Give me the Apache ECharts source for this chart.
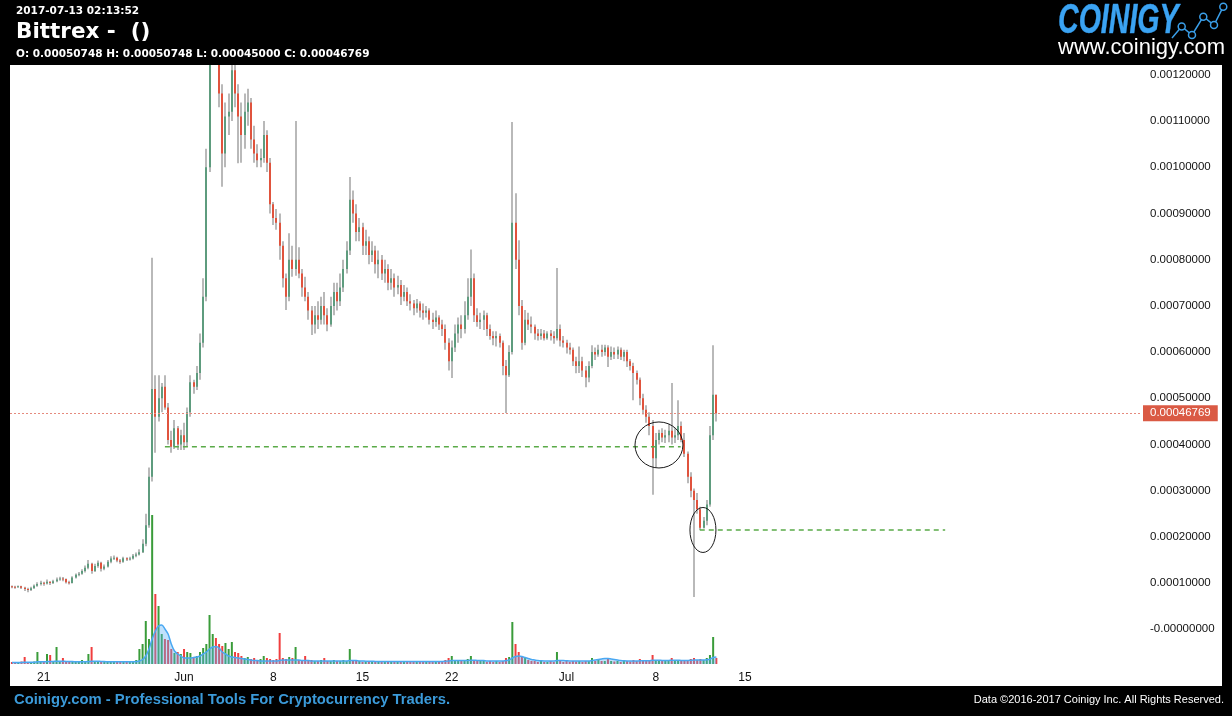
<!DOCTYPE html>
<html><head><meta charset="utf-8">
<script src="https://cdn.jsdelivr.net/npm/echarts@6/dist/echarts.min.js"></script>
<style>html,body{margin:0;padding:0;background:#000}#c{width:1232px;height:716px}</style>
</head><body><div id="c"></div><script>
// ---------- data (prices in units of 1e-8 BTC; time in days since 2017-05-01 00:00) ----------
const FIRST_CANDLE_DAY = 17.5;
const CANDLE_STEP_DAYS = 0.25;
const opens = [9300,9200,9100,9300,9000,8700,8500,8900,9400,9800,10100,9900,10300,10000,10400,10800,11000,10900,10200,10000,
11200,11800,12000,12600,13300,14200,12600,13700,14400,13100,13600,14600,15300,15500,14900,14600,15400,15100,15300,15900,
16200,16700,18500,22500,33000,52000,46000,50000,52500,48000,41000,39500,43500,40000,42000,40500,47000,53500,52500,55500,
62000,72000,100000,125000,130000,127000,116000,103000,111000,112000,121000,116000,111000,107000,112000,114000,106000,103000,101500,102000,
107000,101000,92000,89000,88000,83000,76000,72000,80000,78000,80000,77000,74000,72000,69000,66000,68000,67000,70000,68000,
66000,70000,73000,71000,74000,78000,82000,93000,90000,86000,87000,83000,84000,81000,82000,79000,80000,77000,78000,75000,
76000,74000,74500,72000,73000,71000,70500,69500,70500,69000,68500,69000,67000,66500,67500,66000,65000,62000,58000,61000,
64000,66000,65000,68000,72000,76000,68000,66500,67000,68000,65000,63500,63000,63500,62000,57000,55000,60000,88000,80000,
70000,62000,67000,66000,65500,64000,63500,64000,63000,64000,63500,63000,65000,62500,62000,61000,60500,58000,57000,58000,
56000,54500,57000,60000,59500,60500,60000,61000,59000,60000,59500,60500,59000,60000,58000,57000,55500,54000,50000,47500,
46000,44000,37000,41000,42500,41500,42000,43000,41500,42000,44000,41000,38000,33000,30000,28000,26000,22000,23500,27000,
42000,50748];
const closes = [9200,9100,9300,9000,8700,8500,8900,9400,9800,10100,9900,10300,10000,10400,10800,11000,10900,10200,10000,11200,
11800,12000,12600,13300,14200,12600,13700,14400,13100,13600,14600,15300,15500,14900,14600,15400,15100,15300,15900,16200,
16700,18500,22500,33000,52000,46000,50000,52500,48000,41000,39500,43500,40000,42000,40500,47000,53500,52500,55500,62000,
72000,100000,125000,130000,127000,116000,103000,111000,112000,121000,116000,111000,107000,112000,114000,106000,103000,101500,102000,107000,
101000,92000,89000,88000,83000,76000,72000,80000,78000,80000,77000,74000,72000,69000,66000,68000,67000,70000,68000,66000,
70000,73000,71000,74000,78000,82000,93000,90000,86000,87000,83000,84000,81000,82000,79000,80000,77000,78000,75000,76000,
74000,74500,72000,73000,71000,70500,69500,70500,69000,68500,69000,67000,66500,67500,66000,65000,62000,58000,61000,64000,
66000,65000,68000,72000,76000,68000,66500,67000,68000,65000,63500,63000,63500,62000,57000,55000,60000,88000,80000,70000,
62000,67000,66000,65500,64000,63500,64000,63000,64000,63500,63000,65000,62500,62000,61000,60500,58000,57000,58000,56000,
54500,57000,60000,59500,60500,60000,61000,59000,60000,59500,60500,59000,60000,58000,57000,55500,54000,50000,47500,46000,
44000,37000,41000,42500,41500,42000,43000,41500,42000,44000,41000,38000,33000,30000,28000,26000,22000,23500,27000,42000,
50748,46769];
const lows = [8900,8800,9000,8700,8300,8000,8300,8800,9200,9500,9400,9700,9600,9800,10200,10500,10400,9900,9700,9900,
11000,11500,11800,12300,13000,12000,12400,13300,12500,12800,13400,14300,15000,14500,14200,14400,14800,14900,15100,15600,
16000,16500,18000,22000,32000,38200,45000,47000,47500,40000,38200,39000,38800,38800,38800,39500,46000,51000,51800,54000,
61000,71000,99000,123000,122500,113000,95800,100000,107000,110000,113000,100900,101000,104000,109000,104000,101000,100000,100000,101000,
99000,90000,87500,86500,80000,74000,69100,71000,76300,76500,76000,72000,71000,67000,63700,64000,65000,66000,66000,64500,
65500,68000,69000,70000,73000,77000,81000,88000,84000,84000,81000,81000,79000,79500,77000,76000,75600,75000,73400,73500,
72000,72500,70200,71000,70000,69000,68000,68500,67500,67000,67500,66000,65000,65500,64800,63500,60500,56000,54400,60000,
62000,63000,64000,67000,70000,66500,65500,65000,64800,63500,62700,61500,61200,61000,55000,46800,54600,59500,78000,68000,
60500,61500,64800,64100,62700,62500,62700,62500,62700,62500,61800,62500,61200,61000,59700,59500,57000,55400,55500,54600,
52400,53500,56500,58300,59000,59000,59200,56800,58300,58500,58500,58300,58000,56800,56000,49600,53000,48500,46500,44700,
42000,29100,35100,40000,40500,40300,40500,40000,40300,41000,40500,37300,31600,28600,7000,25000,21500,21800,22500,26500,
41000,45000];
const highs = [9500,9400,9500,9400,9200,9000,9200,9700,10200,10500,10300,10800,10400,10700,11200,11400,11300,11000,10500,11500,
12100,12400,13000,13800,15000,14400,14200,14900,14600,14000,15000,15800,16000,15700,15200,15700,15600,15700,16300,16600,
17300,19500,25000,35000,80400,55000,55000,53300,55000,49000,43000,45300,44000,43200,44700,48000,55000,54000,57000,64000,
76000,104000,132000,138000,134000,128000,118000,114000,116000,126000,124000,118000,114000,116000,117000,115000,109000,105000,104000,110000,
108000,102000,92500,91000,90000,84000,77000,85700,83000,110000,82700,78000,76300,73000,70000,70000,71000,72000,73000,69500,
72000,75000,75000,77000,80000,84000,97900,95000,92000,89000,88000,86500,85000,84000,83000,82000,81000,80000,79000,78000,
77000,76500,75600,74500,74000,72500,71300,71500,71000,70500,70000,69500,68500,69000,68000,67000,66000,63000,62500,66000,
67500,68000,71000,76000,82200,77000,69500,68500,69000,68500,66000,64500,64500,64000,62500,58300,61500,109800,94400,84200,
71300,69100,68500,67700,66000,65000,65000,64800,64500,64800,64500,78200,66000,63500,62700,62000,61000,59000,61200,59000,
57000,58000,61500,61000,61600,61600,61600,61500,61200,61000,61200,61000,60500,60500,58500,57700,56000,54500,51000,48500,
47000,45300,42500,43200,43500,43200,44500,53300,43500,49600,45000,42500,38500,34000,30500,29500,26500,24300,28000,44000,
61500,50748];
const volumes = [20,15,20,25,70,20,15,25,120,30, 20,100,90,30,170,25,60,20,30,25,
20,25,40,30,100,170,30,25,20,30, 25,20,30,30,20,25,20,30,30,40,
150,200,430,250,1490,700,580,300,250,240, 150,110,120,100,150,120,110,70,80,120,
160,200,490,300,260,200,180,210,150,220, 120,110,80,60,70,50,60,40,50,80,
60,50,40,50,310,60,50,70,60,170, 40,30,80,30,40,30,30,40,60,30,
30,40,30,30,40,30,150,40,30,30, 20,30,20,30,20,25,30,20,25,20,
20,30,25,20,20,30,20,25,20,20, 25,20,20,30,25,30,40,60,80,30,
30,30,40,50,80,40,30,30,30,20, 30,20,30,20,30,60,70,420,200,120,
80,60,40,30,30,20,30,20,20,30, 20,120,30,20,30,20,30,25,30,20,
30,30,60,30,40,30,30,50,30,25, 30,20,30,30,25,40,30,50,40,30,
40,90,40,30,30,30,30,60,30,40, 30,30,40,50,60,40,50,40,60,90,
270,60];
const volumeAvg = [15,15,15,15,18,18,18,18,22,22, 22,25,25,25,28,28,28,25,25,25,
22,22,22,22,25,28,28,28,25,25, 22,22,22,22,22,22,22,22,22,25,
30,45,80,150,250,330,380,390,350,300, 200,130,100,80,60,60,60,65,70,80,
100,120,150,170,175,160,120,100,80,70, 65,60,55,50,45,40,35,35,30,30,
30,30,30,30,35,40,40,40,40,40, 40,35,35,35,30,30,30,30,30,30,
30,30,30,30,30,30,35,35,35,30, 30,28,28,28,25,25,25,25,25,25,
25,25,25,25,25,25,25,25,25,25, 25,25,25,25,25,25,28,30,35,35,
35,35,35,35,38,38,35,35,35,30, 30,30,30,30,30,35,40,60,75,80,
75,65,55,45,40,35,32,30,30,30, 30,35,35,35,32,30,30,30,30,30,
30,30,35,40,45,50,55,55,50,45, 40,35,32,30,30,30,30,32,32,32,
32,38,38,38,35,35,35,38,38,38, 35,35,35,38,40,40,40,40,42,48,
65,70];
const tickDays = [20, 31, 38, 45, 52, 61, 68, 75];
const tickLabels = ['21', 'Jun', '8', '15', '22', 'Jul', '8', '15'];
const priceTicks = [0,10000,20000,30000,40000,50000,60000,70000,80000,90000,100000,110000,120000];
const lastPrice = 46769;
// drawn annotations: [startDay, endDay, price]
const supportLines = [[29.5, 69.95, 39520], [71.45, 90.7, 21500]];
// ellipses: [centerDay, centerPrice, radiusDays, radiusPrice]
const ellipses = [[68.25, 39900, 1.88, 4980], [71.7, 21500, 1.02, 4870]];
const headerDate = '2017-07-13 02:13:52';
const headerTitle = 'Bittrex -  ()';
const headerOHLC = 'O: 0.00050748 H: 0.00050748 L: 0.00045000 C: 0.00046769';

// ---------- chart ----------
const times = closes.map((_, i) => FIRST_CANDLE_DAY + i * CANDLE_STEP_DAYS);
const candleData = times.map((t, i) => [t, opens[i], closes[i], lows[i], highs[i]]);
const volData = times.map((t, i) => ({
  value: [t, volumes[i]],
  itemStyle: { color: closes[i] >= opens[i] ? '#3a9c3a' : '#f03e3e' }
}));
const volAvgData = times.map((t, i) => [t, volumeAvg[i]]);

const X_MIN = 17.35, X_MAX = 105.98;
const Y_MIN = -7511, Y_MAX = 122143;
const SANS = 'Liberation Sans, Arial, sans-serif';
const fmtPrice = v => v === 0 ? '-0.00000000' : (v / 1e8).toFixed(8);

function renderCandle(params, api) {
  const t = api.value(0), o = api.value(1), c = api.value(2), l = api.value(3), h = api.value(4);
  const pt = api.coord([t, h]), pb = api.coord([t, l]);
  const po = api.coord([t, o]), pc = api.coord([t, c]);
  const x = Math.round(pt[0]);
  const y1 = Math.min(po[1], pc[1]), y2 = Math.max(po[1], pc[1]);
  const w = 2;
  return {
    type: 'group',
    children: [
      { type: 'line', shape: { x1: x, y1: pt[1], x2: x, y2: pb[1] }, style: { stroke: '#a8a8a8', lineWidth: 1.6 } },
      { type: 'rect', shape: { x: x - w / 2, y: y1, width: w, height: Math.max(1, y2 - y1) },
        style: { fill: c >= o ? '#5e9c7e' : '#e0533d' } }
    ]
  };
}
function renderEllipse(params, api) {
  const c = api.coord([api.value(0), api.value(1)]);
  const s = api.size([api.value(2), api.value(3)]);
  return { type: 'ellipse', shape: { cx: c[0], cy: c[1], rx: s[0], ry: s[1] },
    style: { fill: null, stroke: '#1a1a1a', lineWidth: 1 } };
}

const chart = echarts.init(document.getElementById('c'), null, { renderer: 'canvas' });
chart.setOption({
  animation: false,
  backgroundColor: '#000',
  grid: [
    { left: 10, right: 92, top: 65, bottom: 52 },
    { left: 10, right: 92, top: 594, bottom: 52 }
  ],
  xAxis: [
    { type: 'value', gridIndex: 0, min: X_MIN, max: X_MAX,
      axisLine: { show: false }, axisTick: { show: false }, splitLine: { show: false },
      axisLabel: { customValues: tickDays, formatter: v => tickLabels[tickDays.indexOf(v)] || '',
        color: '#111', fontSize: 12, margin: 8, fontFamily: 'Liberation Sans Narrow, Liberation Sans, Arial, sans-serif' } },
    { type: 'value', gridIndex: 1, min: X_MIN, max: X_MAX, show: false }
  ],
  yAxis: [
    { type: 'value', gridIndex: 0, position: 'right', min: Y_MIN, max: Y_MAX,
      axisLine: { show: false }, axisTick: { show: false }, splitLine: { show: false },
      axisLabel: { customValues: priceTicks, formatter: fmtPrice, color: '#111', fontSize: 11.5,
        margin: 10, fontFamily: SANS } },
    { type: 'value', gridIndex: 1, min: 0, max: 700, show: false }
  ],
  series: [
    { type: 'bar', xAxisIndex: 1, yAxisIndex: 1, data: volData, barWidth: 2, clip: false, z: 2 },
    { type: 'line', xAxisIndex: 1, yAxisIndex: 1, data: volAvgData, symbol: 'none', smooth: 0.3,
      lineStyle: { color: '#4aa8f2', width: 1.5 }, areaStyle: { color: 'rgba(92,176,246,0.55)' }, z: 3 },
    { type: 'custom', xAxisIndex: 0, yAxisIndex: 0, renderItem: renderCandle, data: candleData,
      encode: { x: 0, y: [1, 2, 3, 4] }, clip: true, z: 4 },
    { type: 'line', xAxisIndex: 0, yAxisIndex: 0, symbol: 'none', z: 5,
      data: [[supportLines[0][0], supportLines[0][2]], [supportLines[0][1], supportLines[0][2]]],
      lineStyle: { color: '#5aaa48', width: 1.5, type: [5, 4] },
      markLine: { silent: true, symbol: ['none', 'none'], data: [{ yAxis: lastPrice }],
        lineStyle: { color: '#e58a7d', width: 1, type: [2, 2] },
        label: { position: 'end', formatter: () => fmtPrice(lastPrice), color: '#fff', backgroundColor: '#da5a44',
          padding: [2, 7], fontSize: 11.5, distance: 3, fontFamily: SANS } } },
    { type: 'line', xAxisIndex: 0, yAxisIndex: 0, symbol: 'none', z: 5,
      data: [[supportLines[1][0], supportLines[1][2]], [supportLines[1][1], supportLines[1][2]]],
      lineStyle: { color: '#5aaa48', width: 1.5, type: [5, 4] } },
    { type: 'custom', xAxisIndex: 0, yAxisIndex: 0, renderItem: renderEllipse, data: ellipses,
      encode: { x: 0, y: 1 }, z: 6 }
  ],
  graphic: [
    { type: 'rect', z: -100, shape: { x: 10, y: 65, width: 1212, height: 621 }, style: { fill: '#fff' } },
    { type: 'text', left: 16, top: 6, style: { text: headerDate, fill: '#fff', font: 'bold 10.5px DejaVu Sans' } },
    { type: 'text', left: 16, top: 21, style: { text: headerTitle, fill: '#fff', font: 'bold 21.5px DejaVu Sans' } },
    { type: 'text', left: 16, top: 49, style: { text: headerOHLC, fill: '#fff', font: 'bold 10.5px DejaVu Sans' } },
    { type: 'text', x: 1058, y: 0, scaleX: 0.68, style: { text: 'COINIGY', font: 'italic bold 42px Liberation Sans',
      fill: '#3ba3f2', stroke: '#2a8ee0', lineWidth: 0.5 } },
    { type: 'text', x: 1058, y: 37, style: { text: 'www.coinigy.com', font: '22px Liberation Sans', fill: '#fff' } },
    { type: 'polyline', shape: { points: [[1172, 38], [1181.7, 26.5], [1192, 35], [1203.3, 16.7], [1214, 25], [1223.3, 6.7]] },
      style: { stroke: '#3a9ee8', lineWidth: 1.5, fill: null } },
    { type: 'circle', shape: { cx: 1181.7, cy: 26.5, r: 3.5 }, style: { stroke: '#3a9ee8', lineWidth: 1.5, fill: '#000' } },
    { type: 'circle', shape: { cx: 1192, cy: 35, r: 3.5 }, style: { stroke: '#3a9ee8', lineWidth: 1.5, fill: '#000' } },
    { type: 'circle', shape: { cx: 1203.3, cy: 16.7, r: 3.5 }, style: { stroke: '#3a9ee8', lineWidth: 1.5, fill: '#000' } },
    { type: 'circle', shape: { cx: 1214, cy: 25, r: 3.5 }, style: { stroke: '#3a9ee8', lineWidth: 1.5, fill: '#000' } },
    { type: 'circle', shape: { cx: 1223.3, cy: 6.7, r: 3.5 }, style: { stroke: '#3a9ee8', lineWidth: 1.5, fill: '#000' } },
    { type: 'text', left: 14, top: 692, style: { text: 'Coinigy.com - Professional Tools For Cryptocurrency Traders.',
      fill: '#3b9ad9', font: 'bold 14.8px Liberation Sans' } },
    { type: 'text', right: 8, top: 694, style: { text: 'Data \u00A92016-2017 Coinigy Inc. All Rights Reserved.',
      fill: '#fff', font: '11px Liberation Sans' } }
  ]
});
</script></body></html>
